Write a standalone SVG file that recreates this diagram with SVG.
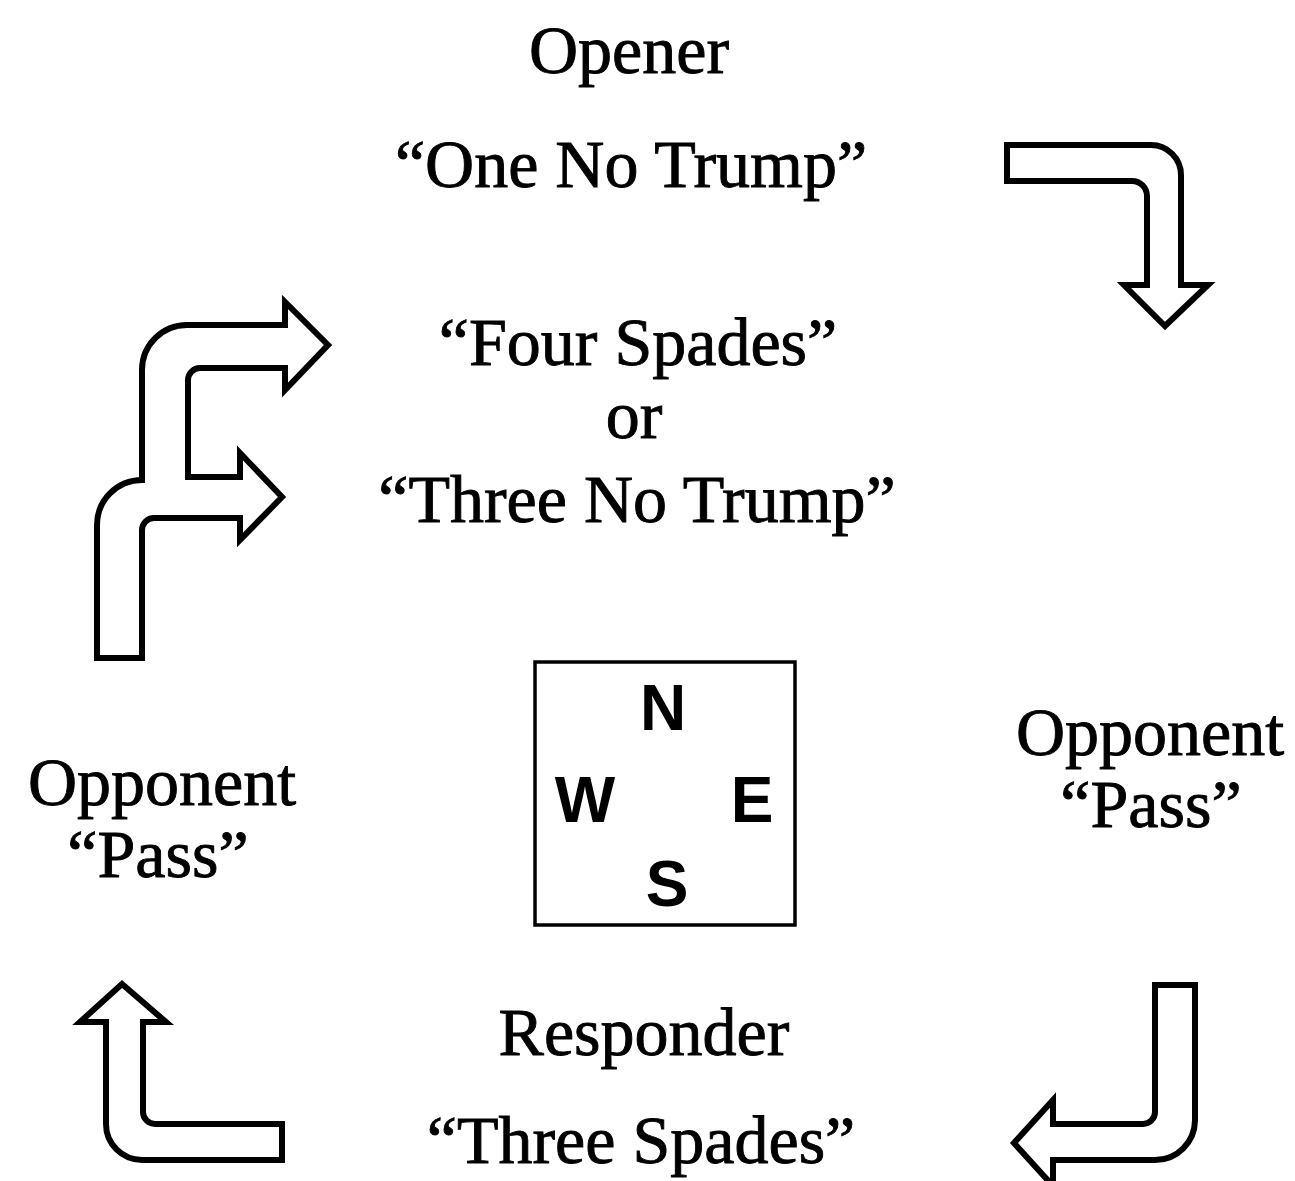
<svg xmlns="http://www.w3.org/2000/svg" width="1295" height="1181" viewBox="0 0 1295 1181">
<style>
.t{font-family:"Liberation Serif","Times New Roman",serif;font-size:68px;fill:#000;stroke:#000;stroke-width:0.9;text-anchor:middle}
.c{font-family:"Liberation Sans",Arial,sans-serif;font-weight:bold;font-size:64px;fill:#000;text-anchor:middle}
.a{fill:#fff;stroke:#000;stroke-width:6;stroke-linejoin:miter}
</style>
<rect width="1295" height="1181" fill="#fff"/>
<g id="opener">
<text class="t" x="629" y="73">Opener</text>
<text class="t" x="631" y="187">“One No Trump”</text>
</g>
<g id="rebid">
<text class="t" x="638" y="365">“Four Spades”</text>
<text class="t" x="634" y="438">or</text>
<text class="t" x="637" y="522">“Three No Trump”</text>
</g>
<g id="opponent-west">
<text class="t" x="162" y="805">Opponent</text>
<text class="t" x="158" y="877">“Pass”</text>
</g>
<g id="opponent-east">
<text class="t" x="1150" y="755">Opponent</text>
<text class="t" x="1151" y="827">“Pass”</text>
</g>
<g id="responder">
<text class="t" x="644" y="1055">Responder</text>
<text class="t" x="641" y="1163">“Three Spades”</text>
</g>
<g id="compass">
<rect x="535" y="662" width="260" height="263" fill="none" stroke="#000" stroke-width="3.5"/>
<text class="c" x="663" y="730">N</text>
<text class="c" x="585" y="822">W</text>
<text class="c" x="752" y="822">E</text>
<text class="c" x="667" y="906">S</text>
</g>
<g id="connectors">
<path class="a" d="M1007 145 H1151 A30 30 0 0 1 1181 175 V285 H1208 L1165 326 L1124 285 H1147 V196 A15 15 0 0 0 1132 181 H1007 Z"/>
<path class="a" d="M1155 985 H1195 V1120 A40 40 0 0 1 1155 1160 H1053 V1186 L1014 1143 L1053 1100 V1124 H1143 A12 12 0 0 0 1155 1112 Z"/>
<path class="a" d="M122 984 L166 1022 H143 V1112 A12 12 0 0 0 155 1124 H282 V1160 H142 A36 36 0 0 1 106 1124 V1022 H80 Z"/>
<path class="a" d="M97 658 V525 A45 45 0 0 1 142 480 V370 A45 45 0 0 1 187 325 H285 V302 L328 345 L285 390 V368 H200 A12 12 0 0 0 188 380 V477 H240 V453 L282 497 L240 540 V518 H154 A12 12 0 0 0 142 530 V658 Z"/>
</g>
</svg>
